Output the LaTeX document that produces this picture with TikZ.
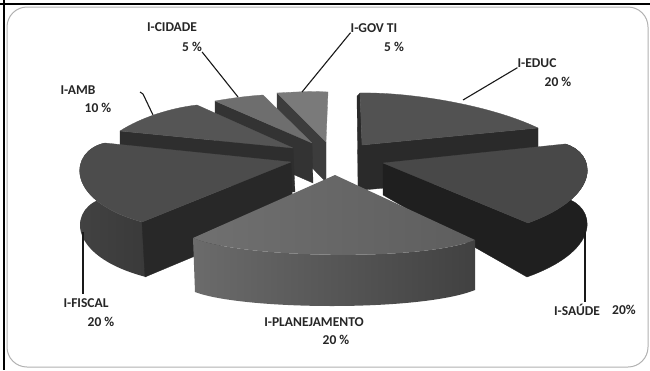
\documentclass[tikz,border=0pt]{standalone}
\usepackage{fontspec}
\setmainfont{Carlito}

\definecolor{topgov}{HTML}{7A7A7A}
\definecolor{sidegov}{HTML}{3C3C3C}
\definecolor{topcid}{HTML}{6E6E6E}
\definecolor{sidecid}{HTML}{333333}
\definecolor{topamb}{HTML}{555555}
\definecolor{sideamb}{HTML}{2E2E2E}
\definecolor{topedu}{HTML}{525252}
\definecolor{sideedu}{HTML}{2A2A2A}
\definecolor{topfis}{HTML}{4C4C4C}
\definecolor{arcfis}{HTML}{444444}
\definecolor{sidefis}{HTML}{282828}
\definecolor{topsau}{HTML}{484848}
\definecolor{sidesau}{HTML}{1F1F1F}
\definecolor{topplanA}{HTML}{707070}
\definecolor{topplanB}{HTML}{5E5E5E}
\definecolor{sideplanA}{HTML}{6B6B6B}
\definecolor{sideplanB}{HTML}{414141}

\tikzset{
  lbl/.style={font=\bfseries\fontsize{13.5}{15}\selectfont, inner sep=0pt, text=black!85},
  leader/.style={draw=black!90, line width=1.1pt},
  face/.style={fill=#1, draw=#1, line width=0.3pt, line join=round},
}

\begin{document}
\begin{tikzpicture}[x=1pt,y=-1pt]
    \useasboundingbox (0,0) rectangle (650,370);
    \fill[white] (0,0) rectangle (650,370);
    \draw[gray!60, line width=1pt, rounded corners=20pt] (7,7) rectangle (648,367);
    \draw[black, line width=2pt] (0,4) -- (650,4);
    \draw[black, line width=2pt] (4,0) -- (4,370);

    % I-GOV TI
    \path[face=sidegov] (277,93) -- (326,142) -- (326,182) -- (277,132) -- cycle;
    \path[face=topgov] (277,93) .. controls (295,92) and (312,91) .. (328,92) -- (326,142) -- cycle;

    % I-CIDADE
    \path[face=sidecid] (215,101) -- (312,143) -- (313,183) -- (215,140) -- cycle;
    \path[face=topcid] (215,101) .. controls (232,98) and (248,96) .. (263,95) -- (312,143) -- cycle;

    % I-AMB
    \path[face=sideamb] (120,131) -- (293,148) -- (295,192) -- (120,175) -- cycle;
    \path[face=topamb] (120,131) .. controls (140,118) and (170,108) .. (197,105) -- (293,148) -- cycle;

    % I-EDUC
    \path[face=sideedu] (362,145) -- (538,128) -- (538,175) -- (362,190) -- cycle;
    \path[face=sideedu] (357,96) -- (360,93) -- (362,145) -- (362,190) -- (358,186) -- cycle;
    \path[face=topedu] (360,93) .. controls (410,92) and (490,105) .. (538,128) -- (362,145) -- cycle;

    % I-FISCAL
    \shade[left color=arcfis, right color=arcfis!85!black] (105,143) .. controls (70,150) and (62,200) .. (142,222)
        -- (146,222) -- (146,277) .. controls (62,255) and (70,205) .. (105,198) -- cycle;
    \path[face=sidefis] (142,222) -- (291,162) -- (293,215) -- (145,277) -- cycle;
    \path[face=topfis] (105,143) .. controls (70,150) and (62,200) .. (142,222) -- (291,162) -- cycle;

    % I-SAUDE
    \path[face=sidesau] (565,144) .. controls (595,152) and (605,195) .. (528,223)
        -- (383,163) -- (383,195) -- (527,277) .. controls (605,249) and (595,206) .. (565,198) -- cycle;
    \path[face=topsau] (383,163) -- (565,144) .. controls (595,152) and (605,195) .. (528,223) -- cycle;

    % I-PLANEJAMENTO
    \shade[left color=sideplanA, right color=sideplanB] (193,238) .. controls (240,258) and (420,262) .. (475,240)
        -- (475,290) .. controls (420,312) and (242,310) .. (195,292) -- cycle;
    \shade[left color=topplanA, right color=topplanB] (335,175) -- (193,238) .. controls (240,258) and (420,262) .. (475,240) -- cycle;

    % labels
    \node[lbl] (cidade) at (172,27) {I-CIDADE};
    \node[lbl] (cidadepct) at (192,47) {5 \%};
    \node[lbl] (govti) at (374,28) {I-GOV TI};
    \node[lbl] (govtipct) at (394,47) {5 \%};
    \node[lbl] (educ) at (537,63) {I-EDUC};
    \node[lbl] (educpct) at (558,82) {20 \%};
    \node[lbl] (amb) at (78,90) {I-AMB};
    \node[lbl] (ambpct) at (98,108) {10 \%};
    \node[lbl] (fiscal) at (86,303) {I-FISCAL};
    \node[lbl] (fiscalpct) at (101,322) {20 \%};
    \node[lbl] (planej) at (314,322) {I-PLANEJAMENTO};
    \node[lbl] (planejpct) at (336,340) {20 \%};
    \node[lbl] (saude) at (577,310) {I-SAÚDE};
    \node[lbl] (saudepct) at (624,310) {20\%};

    \coordinate (cidadetip) at (238,97);
    \coordinate (govtitip) at (302,92);
    \coordinate (eductip) at (463,100);
    \coordinate (ambtop) at (140,92);
    \coordinate (ambtip) at (153,115);
    \coordinate (fiscaltip) at (83,232);
    \coordinate (saudetip) at (585,232);

    \draw[leader] (cidadepct.south east) -- (cidadetip);
    \draw[leader] (govti.south west) -- (govtitip);
    \draw[leader] (educ.south west) -- (eductip);
    \draw[leader] (ambtop) -- ++(3,2) -- (ambtip);
    \draw[leader] (fiscaltip) -- ([yshift=4pt]fiscaltip |- fiscal.north);
    \draw[leader] (saudetip) -- ([yshift=2pt]saudetip |- saude.north);
\end{tikzpicture}
\end{document}
